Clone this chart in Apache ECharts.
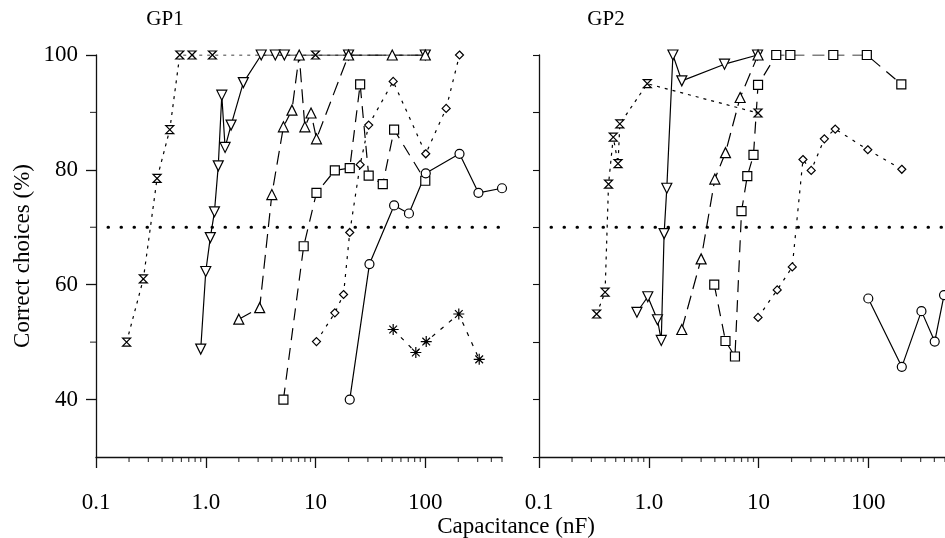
<!DOCTYPE html>
<html>
<head>
<meta charset="utf-8">
<script src="https://cdn.jsdelivr.net/npm/echarts@6/dist/echarts.min.js"></script>
<style>
    html, body { margin: 0; padding: 0; background: #fff; }
    #container { width: 945px; height: 538px; }
</style>
</head>
<body>
<div id="container"></div>
<script>
// data: [capacitance (nF), correct choices (%)]
// GP1
const gp1Hourglass = [[0.19, 50], [0.27, 61], [0.36, 78.5], [0.47, 87], [0.58, 100], [0.75, 100], [1.15, 100], [10, 100], [20, 100], [100, 100]];
const gp1Down = [[0.9, 48.8], [1.0, 62.3], [1.1, 68.2], [1.2, 72.7], [1.3, 80.7], [1.4, 93], [1.5, 83.9], [1.7, 87.8], [2.2, 95.2], [3.2, 100], [4.3, 100], [5.2, 100], [20, 100], [100, 100]];
const gp1Up = [[2.0, 54], [3.1, 56], [4.0, 75.7], [5.1, 87.5], [6.1, 90.4], [7.1, 100], [8.0, 87.5], [9.1, 89.9], [10.2, 85.4], [20, 100], [50, 100], [100, 100]];
const gp1Square = [[5.1, 40], [7.8, 66.7], [10.2, 76], [15, 79.9], [20.5, 80.3], [25.5, 94.9], [30.5, 79], [41, 77.5], [52, 87], [100, 78.1]];
const gp1Diamond = [[10.2, 50.1], [15, 55.1], [18, 58.3], [20.5, 69.1], [25.5, 80.9], [30.5, 87.8], [51, 95.4], [101, 82.8], [155, 90.7], [205, 100]];
const gp1Circle = [[20.5, 40], [31, 63.6], [52, 73.8], [71, 72.4], [101, 79.4], [205, 82.8], [305, 76], [500, 76.8]];
const gp1Star = [[51, 52.2], [82, 48.2], [102, 50.1], [202, 54.9], [310, 47]];
// GP2
const gp2Hourglass = [[0.335, 54.9], [0.4, 58.7], [0.43, 77.5], [0.475, 85.7], [0.525, 81.1], [0.545, 88], [0.97, 95], [9.9, 89.9]];
const gp2Down = [[0.78, 55.2], [0.98, 57.9], [1.2, 53.9], [1.3, 50.3], [1.38, 68.9], [1.46, 76.8], [1.66, 100], [2.0, 95.5], [4.9, 98.4], [9.8, 100]];
const gp2Up = [[2.0, 52.2], [3.0, 64.5], [4.0, 78.4], [5.0, 83], [6.8, 92.6], [9.9, 100]];
const gp2Square = [[3.95, 60], [5.0, 50.2], [6.1, 47.5], [7.0, 72.8], [7.9, 78.9], [9.0, 82.6], [9.9, 94.8], [14.5, 100], [19.5, 100], [48, 100], [97, 100], [200, 94.9]];
const gp2Diamond = [[9.9, 54.3], [14.8, 59.1], [20.3, 63.1], [25.4, 81.8], [30.2, 79.9], [39.8, 85.4], [50, 87.1], [99, 83.5], [202, 80.1]];
const gp2Circle = [[100, 57.6], [202, 45.7], [305, 55.4], [403, 50.1], [490, 58.2]];

const criterion = 70;
const xTickLabels = [0.1, 1, 10, 100];
const yTickLabels = [40, 60, 80, 100];
const yMinorTicks = [50, 70, 90];
const panelTitles = ['GP1', 'GP2'];

const serif = '"Liberation Serif", "Times New Roman", serif';

// minor ticks of the log axis: 2..9 in every decade
const minorX = [];
[0.1, 1, 10, 100].forEach(d => {
    for (let k = 2; k <= 9; k++) {
        let v = +(d * k).toPrecision(3);
        if (v <= 500) minorX.push(v);
    }
});

const SYM = {
    hourglass: 'path://M0,0L10,0L0,10L10,10Z',
    down: 'path://M0,0L10,0L5,9Z',
    up: 'triangle',
    square: 'rect',
    diamond: 'diamond',
    circle: 'circle',
    star: 'path://M5,0L5,10M0,5L10,5M1.5,1.5L8.5,8.5M8.5,1.5L1.5,8.5'
};

let dom = document.getElementById('container');
let myChart = echarts.init(dom);

const axisStroke = { color: '#111', width: 1.3 };
const thinStroke = { color: '#111', width: 1.1 };

function mainX(gridIndex) {
    return {
        type: 'log', logBase: 10, gridIndex: gridIndex, min: 0.1, max: 500, position: 'bottom',
        axisLine: { onZero: false, lineStyle: axisStroke },
        axisTick: { customValues: xTickLabels, length: 11, lineStyle: axisStroke },
        axisLabel: {
            customValues: xTickLabels, margin: 34,
            fontFamily: serif, fontSize: 23, color: '#000',
            formatter: v => (v === 1 ? '1.0' : String(v))
        },
        splitLine: { show: false }
    };
}

function yBase(gridIndex) {
    return {
        type: 'value', gridIndex: gridIndex, min: 30, max: 100, interval: 10, position: 'left',
        axisLine: { show: true, onZero: false, lineStyle: axisStroke },
        splitLine: { show: false }
    };
}

function mk(data, sym, size, dash, panel) {
    return {
        type: 'line',
        data: data,
        xAxisIndex: panel,
        yAxisIndex: panel,
        symbol: SYM[sym],
        symbolSize: size,
        showAllSymbol: true,
        lineStyle: { color: '#000', width: 1.2, type: dash },
        itemStyle: { color: '#fff', borderColor: '#000', borderWidth: 1.2 },
        z: 3
    };
}

function criterionLine(panel) {
    return {
        type: 'line',
        data: [[0.1, criterion], [500, criterion]],
        xAxisIndex: panel,
        yAxisIndex: panel,
        symbol: 'none',
        silent: true,
        lineStyle: { color: '#000', width: 3, type: [0.5, 12.5], cap: 'round', dashOffset: -12 },
        z: 2
    };
}

// short minor tick marks, placed on the axes through the axis scales
function tickMarks(data, panel, size, offset) {
    return {
        type: 'scatter',
        data: data,
        xAxisIndex: panel,
        yAxisIndex: panel,
        symbol: 'rect',
        symbolSize: size,
        symbolOffset: offset,
        itemStyle: { color: '#111' },
        silent: true,
        clip: false,
        z: 4
    };
}

const option = {
    animation: false,
    grid: [
        { left: 96, top: 55, width: 406, height: 402 },
        { left: 539, top: 55, width: 407, height: 402 }
    ],
    xAxis: [mainX(0), mainX(1)],
    yAxis: [
        Object.assign(yBase(0), {
            axisTick: { customValues: yTickLabels, length: 10, lineStyle: axisStroke },
            axisLabel: { customValues: yTickLabels, margin: 18, fontFamily: serif, fontSize: 23, color: '#000' },
            name: 'Correct choices (%)',
            nameLocation: 'middle',
            nameGap: 62,
            nameTextStyle: { fontFamily: serif, fontSize: 23, color: '#000' }
        }),
        Object.assign(yBase(1), {
            axisTick: { show: true, length: 6, lineStyle: thinStroke },
            axisLabel: { show: false }
        })
    ],
    graphic: [
        { type: 'text', x: 165, y: 19, style: { text: panelTitles[0], fontFamily: serif, fontSize: 21, fill: '#000', align: 'center', verticalAlign: 'middle' } },
        { type: 'text', x: 606, y: 19, style: { text: panelTitles[1], fontFamily: serif, fontSize: 21, fill: '#000', align: 'center', verticalAlign: 'middle' } },
        { type: 'text', x: 516, y: 527, style: { text: 'Capacitance (nF)', fontFamily: serif, fontSize: 23, fill: '#000', align: 'center', verticalAlign: 'middle' } }
    ],
    series: [
        criterionLine(0),
        criterionLine(1),
        tickMarks(minorX.map(v => [v, 30]), 0, [1.2, 5], [0, 2.5]),
        tickMarks(minorX.map(v => [v, 30]), 1, [1.2, 5], [0, 2.5]),
        tickMarks(yMinorTicks.map(v => [0.1, v]), 0, [6, 1.2], [-3, 0]),
        mk(gp1Hourglass, 'hourglass', 8, [3, 5], 0),
        mk(gp1Down, 'down', 10, 'solid', 0),
        mk(gp1Up, 'up', 10, [14, 7], 0),
        mk(gp1Square, 'square', 9, [12, 8], 0),
        mk(gp1Diamond, 'diamond', 8, [3, 6], 0),
        mk(gp1Circle, 'circle', 9, 'solid', 0),
        mk(gp1Star, 'star', 11, [4, 7], 0),
        mk(gp2Hourglass, 'hourglass', 8, [3, 5], 1),
        mk(gp2Down, 'down', 10, 'solid', 1),
        mk(gp2Up, 'up', 10, [14, 7], 1),
        mk(gp2Square, 'square', 9, [12, 8], 1),
        mk(gp2Diamond, 'diamond', 8, [3, 6], 1),
        mk(gp2Circle, 'circle', 9, 'solid', 1)
    ]
};

myChart.setOption(option);
</script>
</body>
</html>
